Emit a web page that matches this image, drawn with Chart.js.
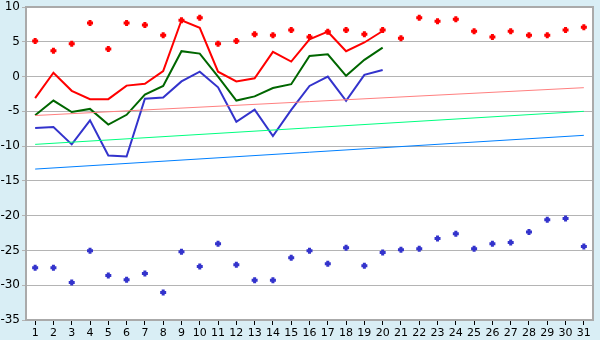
<!DOCTYPE html>
<html>
<head>
<meta charset="utf-8">
<script src="https://cdn.jsdelivr.net/npm/chart.js@4"></script>
<style>
    html, body { margin: 0; padding: 0; background: #d9eef5; }
    #wrap { width: 600px; height: 340px; }
</style>
</head>
<body>
<div id="wrap"><canvas id="chart" width="600" height="340"></canvas></div>
<script>
// Days of the month
const days = ["1","2","3","4","5","6","7","8","9","10","11","12","13","14","15","16",
    "17","18","19","20","21","22","23","24","25","26","27","28","29","30","31"];

// Record highs / lows (points)
const recordMax = [5.1, 3.7, 4.7, 7.7, 3.95, 7.7, 7.4, 5.95, 8.1, 8.45, 4.7, 5.1, 6.1, 5.95, 6.7, 5.7,
    6.45, 6.7, 6.1, 6.7, 5.5, 8.45, 7.95, 8.25, 6.5, 5.7, 6.5, 5.95, 5.95, 6.7, 7.1];
const recordMin = [-27.5, -27.5, -29.6, -25.05, -28.6, -29.2, -28.3, -31.05, -25.2, -27.3, -24.05, -27.05, -29.3, -29.3, -26.05, -25.05,
    -26.9, -24.6, -27.2, -25.3, -24.9, -24.75, -23.3, -22.6, -24.75, -24.05, -23.85, -22.35, -20.6, -20.4, -24.45];

// This month's daily values (days 1-20)
const dailyMax = [-3.1, 0.55, -2.05, -3.25, -3.25, -1.3, -1.05, 0.8, 8.1, 7.0, 0.7, -0.7, -0.25, 3.55, 2.15, 5.35,
    6.45, 3.65, 4.9, 6.55];
const dailyMean = [-5.55, -3.45, -5.1, -4.65, -6.9, -5.5, -2.6, -1.35, 3.65, 3.3, 0.0, -3.45, -2.85, -1.65, -1.1, 2.95,
    3.2, 0.1, 2.4, 4.15];
const dailyMin = [-7.4, -7.25, -9.75, -6.3, -11.35, -11.5, -3.2, -3.0, -0.7, 0.7, -1.55, -6.5, -4.75, -8.55, -4.8, -1.35,
    0.0, -3.5, 0.25, 0.95];

// Normal lines, value on day 1 and day 31
const normalMax = [-5.6, -1.6];
const normalMean = [-9.75, -5.0];
const normalMin = [-13.3, -8.45];

const yTicks = { min: -35, max: 10, step: 5 };

function endpoints(vals) {
    return [{ x: days[0], y: vals[0] }, { x: days[days.length - 1], y: vals[1] }];
}

// White plot area + grey frame
const plotFrame = {
    id: "plotFrame",
    beforeDraw(chart) {
        const { ctx, chartArea: a } = chart;
        ctx.save();
        ctx.fillStyle = "#ffffff";
        ctx.fillRect(a.left, a.top, a.right - a.left, a.bottom - a.top);
        ctx.restore();
    },
    afterDraw(chart) {
        const { ctx, chartArea: a } = chart;
        ctx.save();
        ctx.strokeStyle = "#aaaaaa";
        ctx.lineWidth = 2;
        ctx.strokeRect(a.left, a.top, a.right - a.left, a.bottom - a.top);
        ctx.restore();
    }
};

const lineDs = (data, color, width) => ({
    type: "line", data, borderColor: color, borderWidth: width,
    pointRadius: 0, tension: 0, fill: false
});
const pointDs = (data, color) => ({
    type: "line", data, showLine: false, borderColor: color, backgroundColor: color,
    pointStyle: "cross", pointRadius: 3, borderWidth: 3
});

new Chart(document.getElementById("chart").getContext("2d"), {
    type: "line",
    data: {
        labels: days,
        datasets: [
            lineDs(endpoints(normalMax), "#ff8080", 1),
            lineDs(endpoints(normalMean), "#00ff80", 1),
            lineDs(endpoints(normalMin), "#0080ff", 1),
            lineDs(dailyMin, "#3333cc", 2),
            lineDs(dailyMean, "#006600", 2),
            lineDs(dailyMax, "#ff0000", 2),
            pointDs(recordMax, "#ff0000"),
            pointDs(recordMin, "#3333cc")
        ]
    },
    options: {
        responsive: false,
        animation: false,
        layout: { padding: { top: 5, right: 5, left: 0, bottom: 0 } },
        plugins: { legend: { display: false }, tooltip: { enabled: false } },
        scales: {
            x: {
                offset: true,
                grid: { offset: false, drawOnChartArea: false, drawTicks: true, tickLength: 5, color: "#000000" },
                border: { color: "#aaaaaa", width: 2 },
                ticks: { color: "#000000", font: { family: "DejaVu Sans", size: 11 }, padding: 2, maxRotation: 0, autoSkip: false },
                afterFit(s) { s.height = 20; s.paddingLeft = 0; s.paddingRight = 0; }
            },
            y: {
                min: yTicks.min, max: yTicks.max,
                grid: { color: "#b4b4b4", lineWidth: 1, drawTicks: true, tickLength: 4 },
                border: { color: "#aaaaaa", width: 2 },
                ticks: { stepSize: yTicks.step, color: "#000000", font: { family: "DejaVu Sans", size: 12 }, padding: 2 },
                afterFit(s) { s.width = 26; s.paddingTop = 0; s.paddingBottom = 0; }
            }
        }
    },
    plugins: [plotFrame]
});
</script>
</body>
</html>
